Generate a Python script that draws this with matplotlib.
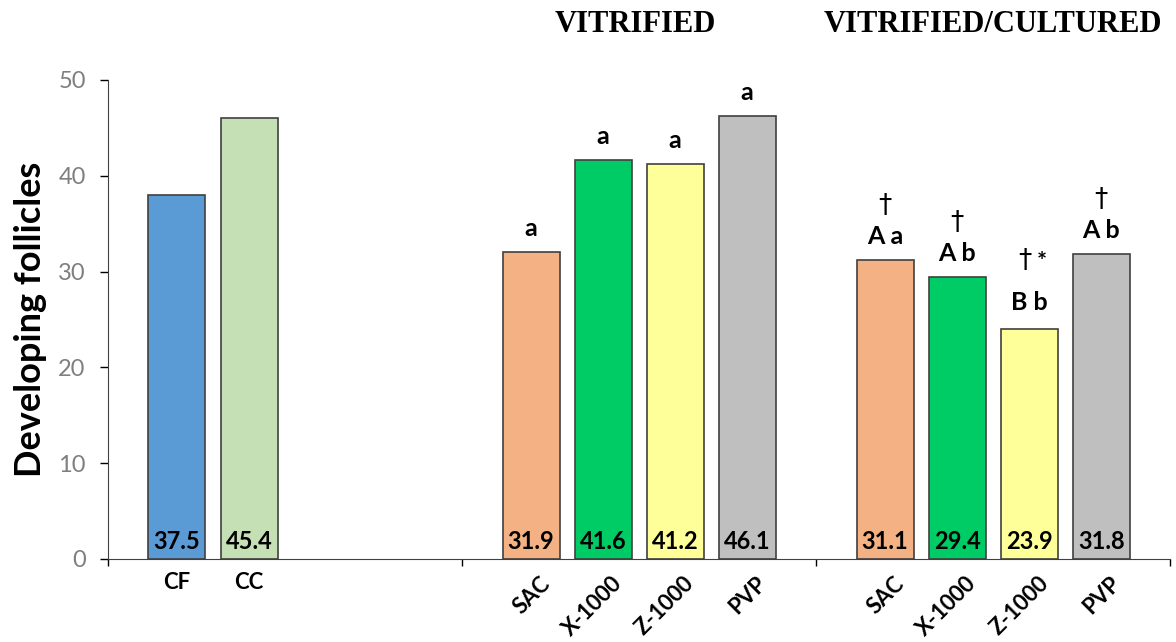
import matplotlib.pyplot as plt

# data
groups = [0, 0, 1, 1, 1, 1, 2, 2, 2, 2]
slots = [0, 1, 0, 1, 2, 3, 0, 1, 2, 3]
names = ["CF", "CC", "SAC", "X-1000", "Z-1000", "PVP", "SAC", "X-1000", "Z-1000", "PVP"]
heights = [38.0, 46.0, 32.0, 41.6, 41.2, 46.2, 31.2, 29.4, 24.0, 31.8]
shown = ["37.5", "45.4", "31.9", "41.6", "41.2", "46.1", "31.1", "29.4", "23.9", "31.8"]
letters = ["", "", "a", "a", "a", "a", "A a", "A b", "B b", "A b"]
daggers = ["", "", "", "", "", "", "†", "†", "†", "†"]
colors = ["#5B9BD5", "#C5E0B4", "#F4B183", "#00CC66", "#FFFF99", "#BFBFBF",
          "#F4B183", "#00CC66", "#FFFF99", "#BFBFBF"]
headers = ["VITRIFIED", "VITRIFIED/CULTURED"]

plt.rcParams['font.family'] = ['Lato', 'DejaVu Sans']

fig = plt.figure(figsize=(11.76, 6.42), dpi=100)
ax = fig.add_axes([0.0918, 0.1293, 0.9032, 0.7461])

W = 0.161
xs = [g + 0.195 + 0.2035 * s for g, s in zip(groups, slots)]
ax.bar(xs, heights, width=W, color=colors, edgecolor="#404040", linewidth=1.2, zorder=2)

for x, h, t in zip(xs, heights, shown):
    ax.text(x, 0.6, t, ha="center", va="bottom", fontsize=17, fontweight="bold", zorder=3)

# significance letters
for i, (x, h, l, d) in enumerate(zip(xs, heights, letters, daggers)):
    if not l:
        continue
    z = names[i] == "Z-1000" and groups[i] == 2
    off = 19 if z else 17
    ax.annotate(l, (x, h), xytext=(0, off), textcoords="offset points",
                ha="center", va="center", fontsize=18, fontweight="bold")
    if d:
        doff = off + 30 if z else off + 22
        ax.annotate(d, (x, h), xytext=(-3 if z else 0, doff), textcoords="offset points",
                    ha="center", va="center", fontsize=19,
                    family=["DejaVu Sans"])
        if z:
            ax.annotate("*", (x, h), xytext=(9, doff - 1), textcoords="offset points",
                        ha="center", va="center", fontsize=17, fontweight="bold")

# x labels
for x, g, n in zip(xs, groups, names):
    if g == 0:
        ax.annotate(n, (x, 0), xytext=(0, -17), textcoords="offset points",
                    ha="center", va="center", fontsize=16, fontweight="bold")
    else:
        ax.annotate(n, (x, 0), xytext=(6, -10), textcoords="offset points",
                    ha="right", va="top", rotation=45, rotation_mode="anchor",
                    fontsize=16, fontweight="bold")

# group headers above the vitrified and vitrified/cultured bars
for cx, h in zip([635, 993], headers):
    fig.text(cx / 1176, 1 - 25 / 642, h, ha="center", va="center", fontsize=22,
             fontweight="bold", family=["Liberation Serif"])

ax.set_xlim(0, 3)
ax.set_ylim(0, 50)
ax.set_xticks([0, 1, 2, 3])
ax.set_xticklabels([])
ax.set_yticks(range(0, 51, 10))
ax.tick_params(axis="y", labelsize=17, labelcolor="#7F7F7F", length=6, width=1, pad=10)
ax.tick_params(axis="x", length=5, width=1, direction="out")
ax.spines["top"].set_visible(False)
ax.spines["right"].set_visible(False)
ax.spines["left"].set_color("#404040")
ax.spines["bottom"].set_color("#404040")
ax.set_ylabel("Developing follicles", fontsize=26, fontweight="bold", labelpad=8)

fig.savefig("out.png", dpi=100)
